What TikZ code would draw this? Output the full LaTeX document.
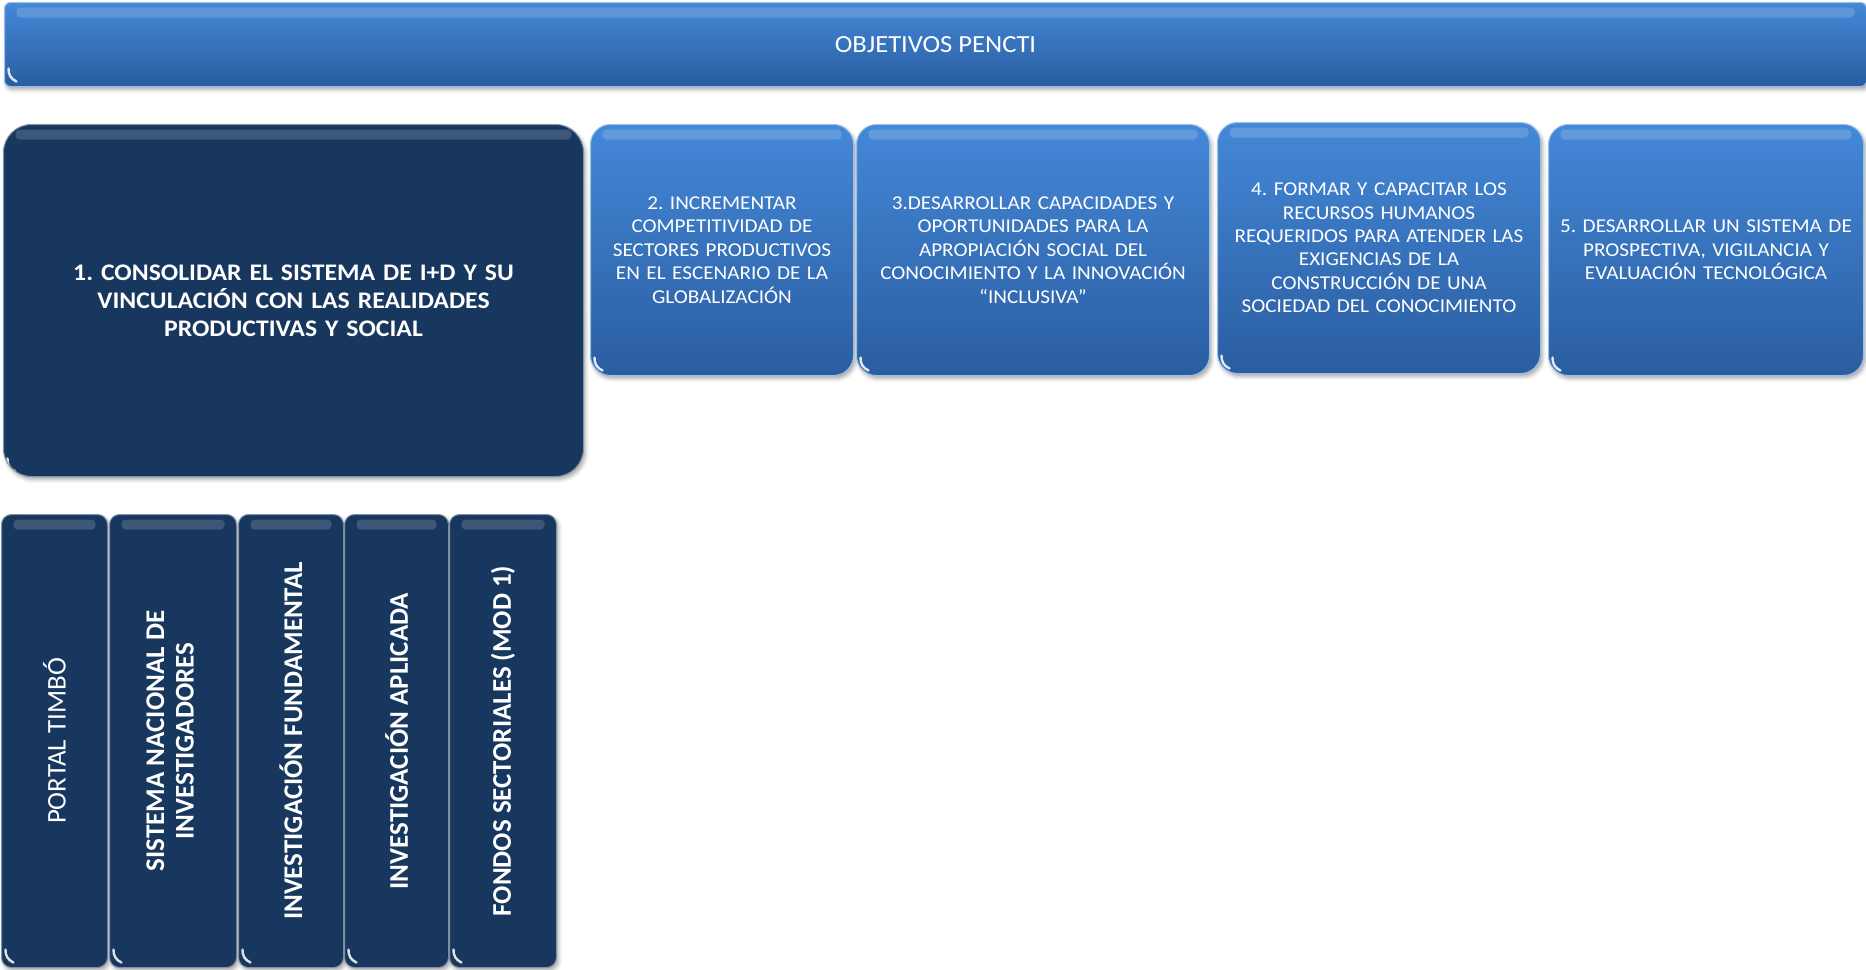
\documentclass[tikz,border=0pt]{standalone}
\usepackage{fontspec}
\setmainfont{Carlito}[FakeStretch=1.08]
\newfontfamily\colfont{Carlito}
\usetikzlibrary{positioning,shadows.blur}

\definecolor{objtop}{RGB}{68,136,216}
\definecolor{objbot}{RGB}{42,93,160}
\definecolor{navy}{RGB}{23,55,94}

\tikzset{
  gloss/.style={path picture={
      \fill[white, opacity=0.16, rounded corners=2pt]
        ([xshift=6pt,yshift=-2.5pt]path picture bounding box.north west) rectangle
        ([xshift=-6pt,yshift=-7.5pt]path picture bounding box.north east);
      \draw[white, opacity=0.85, line width=1.2pt, line cap=round]
        ([xshift=2pt,yshift=9pt]path picture bounding box.south west)
        to[bend right=35] ([xshift=6pt,yshift=2.5pt]path picture bounding box.south west);}},
  obj/.style={top color=objtop, bottom color=objbot, draw=objtop!55!white,
    line width=0.5pt, rounded corners=10pt, text=white, align=center, inner sep=0pt,
    blur shadow={shadow xshift=1pt, shadow yshift=-1.5pt, shadow opacity=35, shadow blur steps=4},
    gloss},
  dark/.style={obj, top color=navy, bottom color=navy, draw=navy!55!white},
  col/.style={dark, rounded corners=5pt, minimum height=226.5pt},
}

\begin{document}
\frenchspacing
\begin{tikzpicture}[node distance=4pt, every node/.style={font=\fontsize{9.8}{11.7}\selectfont}]
    \useasboundingbox (0,0) rectangle (933pt,-484.5pt);

    \node[obj, rounded corners=3pt, minimum width=931pt, minimum height=42pt,
      font=\fontsize{12.3}{14}\selectfont] (0) [anchor=north west] at (2pt,-1pt) {OBJETIVOS PENCTI};

    \node[dark, rounded corners=14pt, minimum width=290pt, minimum height=176pt, text width=280pt,
      font=\bfseries\fontsize{11.9}{13.9}\selectfont] (1) [below=18.5pt of 0.south west, anchor=north west, xshift=-0.5pt]
      {1. CONSOLIDAR EL SISTEMA DE I+D Y SU\\ VINCULACIÓN CON LAS REALIDADES\\ PRODUCTIVAS Y SOCIAL};

    \node[obj, minimum width=131.5pt, minimum height=125.5pt, text width=128pt] (2)
      [right=3pt of 1.north east, anchor=north west]
      {2. INCREMENTAR\\ COMPETITIVIDAD DE\\ SECTORES PRODUCTIVOS\\ EN EL ESCENARIO DE LA\\ GLOBALIZACIÓN};

    \node[obj, minimum width=176.5pt, minimum height=125.5pt, text width=172pt] (3)
      [right=1pt of 2.north east, anchor=north west]
      {3.DESARROLLAR CAPACIDADES Y\\ OPORTUNIDADES PARA LA\\ APROPIACIÓN SOCIAL DEL\\ CONOCIMIENTO Y LA INNOVACIÓN\\ “INCLUSIVA”};

    \node[obj, minimum width=161.5pt, minimum height=125.5pt, text width=158pt] (4)
      [right=3.5pt of 3.north east, anchor=north west, yshift=1pt]
      {4. FORMAR Y CAPACITAR LOS\\ RECURSOS HUMANOS\\ REQUERIDOS PARA ATENDER LAS\\ EXIGENCIAS DE LA\\ CONSTRUCCIÓN DE UNA\\ SOCIEDAD DEL CONOCIMIENTO};

    \node[obj, minimum width=157.5pt, minimum height=125.5pt, text width=154pt] (5)
      [right=3.5pt of 4.north east, anchor=north west, yshift=-1pt]
      {5. DESARROLLAR UN SISTEMA DE\\ PROSPECTIVA, VIGILANCIA Y\\ EVALUACIÓN TECNOLÓGICA};

    % programas del objetivo 1
    \node[col, minimum width=53pt, font=\colfont\fontsize{13.5}{14.7}\selectfont] (1a)
      [below=18.5pt of 1.south west, anchor=north west, xshift=-1pt]
      {\rotatebox{90}{PORTAL TIMBÓ}};

    \node[col, minimum width=63.5pt, font=\colfont\bfseries\fontsize{13.5}{14.7}\selectfont] (1b)
      [right=0.5pt of 1a.north east, anchor=north west]
      {\rotatebox{90}{\begin{tabular}{@{}c@{}}SISTEMA NACIONAL DE\\ INVESTIGADORES\end{tabular}}};

    \node[col, minimum width=52.5pt, font=\colfont\bfseries\fontsize{13.5}{14.7}\selectfont] (1c)
      [right=0.5pt of 1b.north east, anchor=north west]
      {\rotatebox{90}{INVESTIGACIÓN FUNDAMENTAL}};

    \node[col, minimum width=52pt, font=\colfont\bfseries\fontsize{13.5}{14.7}\selectfont] (1d)
      [right=0pt of 1c.north east, anchor=north west]
      {\rotatebox{90}{INVESTIGACIÓN APLICADA}};

    \node[col, minimum width=53.5pt, font=\colfont\bfseries\fontsize{13.5}{14.7}\selectfont] (1e)
      [right=0pt of 1d.north east, anchor=north west]
      {\rotatebox{90}{FONDOS SECTORIALES (MOD 1)}};
\end{tikzpicture}
\end{document}
